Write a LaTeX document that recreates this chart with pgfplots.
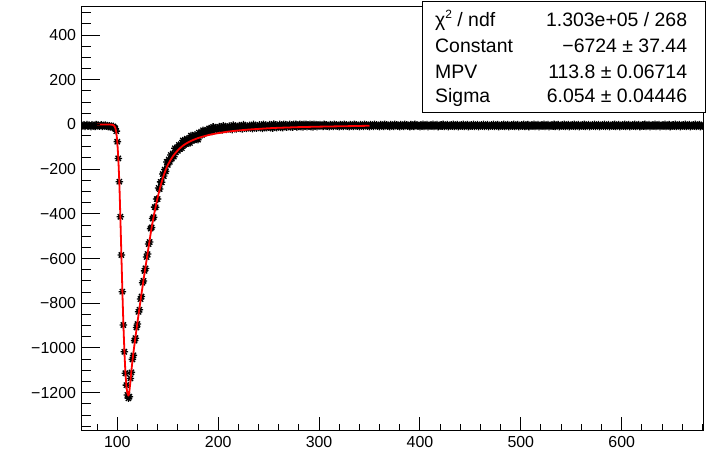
\documentclass[border=0pt]{standalone}
\usepackage{fontspec}
\setmainfont{Liberation Sans}
\usepackage{pgfplots}
\pgfplotsset{compat=1.18}

% ROOT marker 3: a + and an x on top of each other
\pgfdeclareplotmark{rstar}{%
  \pgfpathmoveto{\pgfqpoint{-\pgfplotmarksize}{0pt}}\pgfpathlineto{\pgfqpoint{\pgfplotmarksize}{0pt}}%
  \pgfpathmoveto{\pgfqpoint{0pt}{-\pgfplotmarksize}}\pgfpathlineto{\pgfqpoint{0pt}{\pgfplotmarksize}}%
  \pgfpathmoveto{\pgfqpoint{-0.707\pgfplotmarksize}{-0.707\pgfplotmarksize}}\pgfpathlineto{\pgfqpoint{0.707\pgfplotmarksize}{0.707\pgfplotmarksize}}%
  \pgfpathmoveto{\pgfqpoint{-0.707\pgfplotmarksize}{0.707\pgfplotmarksize}}\pgfpathlineto{\pgfqpoint{0.707\pgfplotmarksize}{-0.707\pgfplotmarksize}}%
  \pgfusepathqstroke}

\pgfplotsset{
  rootframe/.style={
    scale only axis, width=621.6bp, height=423.3bp,
    at={(81.7bp,21bp)}, anchor=south west,
    xmin=64.7, xmax=680.9, ymin=-1366.8, ymax=526.6,
    axis line style={line width=1bp, black},
    tick align=inside,
    tick style={line width=1bp, black},
    ticklabel style={font=\fontsize{16}{18}\selectfont},
  }
}

\begin{document}
\begin{tikzpicture}
% frame with the data, x ticks
\begin{axis}[rootframe,
  clip marker paths=true,
  xtick={100,200,300,400,500,600},
  xticklabels={100,200,300,400,500,600},
  minor xtick={80,100,...,680},
  xtick pos=bottom, ytick=\empty,
  major tick length=12.7bp, minor tick length=6.2bp,
  xticklabel style={anchor=base, inner sep=0pt, yshift=-17.5bp},
]
\addplot[only marks, mark=rstar, mark size=3.7bp, black, line width=1.3bp] coordinates {
(65,-4)(66,-7)(67,-2)(68,-9)(69,-5)(70,-1)(71,-8)(72,-3)(73,-6)(74,-10)
(75,-2)(76,-7)(77,-4)(78,-9)(79,-1)(80,-6)(81,-3)(82,-8)(83,-5)(84,-2)
(85,-9)(86,-4)(87,-7)(88,-3)(89,-8)(90,-5)(91,-10)(92,-6)(93,-11)(94,-7)
(95,-12)(96,-9)(97,-14)(98,-18)(99,-30)
(100,-77)(101,-152)(102,-256)(103,-413)(104,-584)(105,-748)(106,-897)(107,-1017)(108,-1113)(109,-1166)
(110,-1210)(111,-1225)(112,-1218)
(113,-1136)(114,-1109)(115,-1051)(116,-1033)(117,-967)(118,-956)(119,-908)(120,-893)(121,-838)(122,-829)
(123,-781)(124,-770)(125,-708)(126,-700)(127,-655)(128,-644)(129,-593)(130,-580)(131,-535)(132,-526)
(133,-466)(134,-461)(135,-421)(136,-415)(137,-370)(138,-371)(139,-334)(140,-334)(141,-284)(142,-289)
(143,-257)(144,-259)(145,-222)(146,-231)(147,-202)(148,-210)(149,-168)(150,-181)(151,-157)(152,-167)
(153,-137)(154,-153)(155,-130)(156,-144)(157,-107)(158,-125)(159,-105)(160,-118)(161,-92)(162,-110)
(163,-90)(164,-106)(165,-72)(166,-91)(167,-73)(168,-88)(169,-64)(170,-84)(171,-66)(172,-83)
(173,-50)(174,-71)(175,-54)(176,-70)(177,-46)(178,-67)(179,-50)(180,-68)
(181,-37)(182,-48)(183,-36)(184,-47)(185,-26)(186,-37)(187,-27)(188,-37)(189,-26)(190,-30)
(191,-18)(192,-30)(193,-19)(194,-31)(195,-11)(196,-23)(197,-14)(198,-26)(199,-16)(200,-21)
(201,-10)(202,-23)(203,-12)(204,-25)(205,-6)(206,-19)(207,-10)(208,-22)(209,-13)(210,-19)
(211,-7)(212,-20)(213,-10)(214,-23)(215,-3)(216,-16)(217,-8)(218,-20)(219,-10)(220,-16)
(221,-5)(222,-18)(223,-8)(224,-20)(225,-1)(226,-14)(227,-6)(228,-18)(229,-9)(230,-15)
(231,-4)(232,-16)(233,-6)(234,-19)(235,0)(236,-13)(237,-5)(238,-17)(239,-8)(240,-13)
(241,-2)(242,-15)(243,-5)(244,-18)(245,1)(246,-12)(247,-4)(248,-15)(249,-6)(250,-12)
(251,-1)(252,-14)(253,-4)(254,-17)(255,2)(256,-10)(257,-2)(258,-14)(259,-5)(260,-11)
(261,0)(262,-13)(263,-3)(264,-14)(265,1)(266,-9)(267,-1)(268,-12)(269,-4)(270,-10)
(271,0)(272,-11)(273,-2)(274,-12)(275,1)(276,-8)(277,0)(278,-11)(279,-3)(280,-9)
(281,0)(282,-10)(283,-1)(284,-11)(285,1)(286,-7)(287,0)(288,-10)(289,-2)(290,-8)
(291,0)(292,-10)(293,-1)(294,-11)(295,0)(296,-6)(297,-1)(298,-10)(299,-2)(300,-7)
(301,-1)(302,-7)(303,-3)(304,-9)(305,0)(306,-6)(307,-2)(308,-8)(309,-4)(310,-10)
(311,-1)(312,-7)(313,-3)(314,-9)(315,0)(316,-6)(317,-2)(318,-8)(319,-4)(320,-10)
(321,-1)(322,-7)(323,-3)(324,-9)(325,0)(326,-6)(327,-2)(328,-8)(329,-4)(330,-10)
(331,-1)(332,-7)(333,-3)(334,-9)(335,0)(336,-6)(337,-2)(338,-8)(339,-4)(340,-10)
(341,-1)(342,-7)(343,-3)(344,-9)(345,0)(346,-6)(347,-2)(348,-8)(349,-4)(350,-10)
(351,-1)(352,-7)(353,-3)(354,-9)(355,0)(356,-6)(357,-2)(358,-8)(359,-4)(360,-10)
(361,-1)(362,-7)(363,-3)(364,-9)(365,0)(366,-6)(367,-2)(368,-8)(369,-4)(370,-10)
(371,-1)(372,-7)(373,-3)(374,-9)(375,0)(376,-6)(377,-2)(378,-8)(379,-4)(380,-10)
(381,-1)(382,-7)(383,-3)(384,-9)(385,0)(386,-6)(387,-2)(388,-8)(389,-4)(390,-10)
(391,-1)(392,-7)(393,-3)(394,-9)(395,0)(396,-6)(397,-2)(398,-8)(399,-4)(400,-10)
(401,-2)(402,-8)(403,0)(404,-9)(405,-3)(406,-6)(407,-1)(408,-10)(409,-4)(410,-7)
(411,-2)(412,-8)(413,0)(414,-9)(415,-3)(416,-6)(417,-1)(418,-10)(419,-4)(420,-7)
(421,-2)(422,-8)(423,0)(424,-9)(425,-3)(426,-6)(427,-1)(428,-10)(429,-4)(430,-7)
(431,-2)(432,-8)(433,0)(434,-9)(435,-3)(436,-6)(437,-1)(438,-10)(439,-4)(440,-7)
(441,-2)(442,-8)(443,0)(444,-9)(445,-3)(446,-6)(447,-1)(448,-10)(449,-4)(450,-7)
(451,-2)(452,-8)(453,0)(454,-9)(455,-3)(456,-6)(457,-1)(458,-10)(459,-4)(460,-7)
(461,-2)(462,-8)(463,0)(464,-9)(465,-3)(466,-6)(467,-1)(468,-10)(469,-4)(470,-7)
(471,-2)(472,-8)(473,0)(474,-9)(475,-3)(476,-6)(477,-1)(478,-10)(479,-4)(480,-7)
(481,-2)(482,-8)(483,0)(484,-9)(485,-3)(486,-6)(487,-1)(488,-10)(489,-4)(490,-7)
(491,-2)(492,-8)(493,0)(494,-9)(495,-3)(496,-6)(497,-1)(498,-10)(499,-4)(500,-7)
(501,-2)(502,-8)(503,0)(504,-9)(505,-3)(506,-6)(507,-1)(508,-10)(509,-4)(510,-7)
(511,-2)(512,-8)(513,0)(514,-9)(515,-3)(516,-6)(517,-1)(518,-10)(519,-4)(520,-7)
(521,-2)(522,-8)(523,0)(524,-9)(525,-3)(526,-6)(527,-1)(528,-10)(529,-4)(530,-7)
(531,-2)(532,-8)(533,0)(534,-9)(535,-3)(536,-6)(537,-1)(538,-10)(539,-4)(540,-7)
(541,-2)(542,-8)(543,0)(544,-9)(545,-3)(546,-6)(547,-1)(548,-10)(549,-4)(550,-7)
(551,-2)(552,-8)(553,0)(554,-9)(555,-3)(556,-6)(557,-1)(558,-10)(559,-4)(560,-7)
(561,-2)(562,-8)(563,0)(564,-9)(565,-3)(566,-6)(567,-1)(568,-10)(569,-4)(570,-7)
(571,-2)(572,-8)(573,0)(574,-9)(575,-3)(576,-6)(577,-1)(578,-10)(579,-4)(580,-7)
(581,-2)(582,-8)(583,0)(584,-9)(585,-3)(586,-6)(587,-1)(588,-10)(589,-4)(590,-7)
(591,-2)(592,-8)(593,0)(594,-9)(595,-3)(596,-6)(597,-1)(598,-10)(599,-4)(600,-7)
(601,-2)(602,-8)(603,0)(604,-9)(605,-3)(606,-6)(607,-1)(608,-10)(609,-4)(610,-7)
(611,-2)(612,-8)(613,0)(614,-9)(615,-3)(616,-6)(617,-1)(618,-10)(619,-4)(620,-7)
(621,-2)(622,-8)(623,0)(624,-9)(625,-3)(626,-6)(627,-1)(628,-10)(629,-4)(630,-7)
(631,-2)(632,-8)(633,0)(634,-9)(635,-3)(636,-6)(637,-1)(638,-10)(639,-4)(640,-7)
(641,-2)(642,-8)(643,0)(644,-9)(645,-3)(646,-6)(647,-1)(648,-10)(649,-4)(650,-7)
(651,-2)(652,-8)(653,0)(654,-9)(655,-3)(656,-6)(657,-1)(658,-10)(659,-4)(660,-7)
(661,-2)(662,-8)(663,0)(664,-9)(665,-3)(666,-6)(667,-1)(668,-10)(669,-4)(670,-7)
(671,-2)(672,-8)(673,0)(674,-9)(675,-3)(676,-6)(677,-1)(678,-10)(679,-4)(680,-7)
(681,-2)
};
% Landau fit
\addplot[red, line width=1.8bp, no marks, line join=round] coordinates {
(80,0)(85,0)(90,0)(93,-0.5)(95,-1.5)(96,-3)(97,-7)(98,-15)(99,-35)(100,-78)
(101,-152)(102,-258)(103,-410)(104,-578)(105,-742)(106,-890)(107,-1012)(108,-1108)(109,-1170)(110,-1203)
(111,-1213)(111.5,-1208)(112,-1192)(113,-1150)(114,-1100)(115,-1058)(116,-1020)(117,-985)(118,-951)(119,-918)
(120,-885)(121,-852)(122,-820)(123,-788)(124,-757)(125,-726)(126,-695)(127,-665)(128,-636)(129,-607)
(130,-577)(131,-548)(132,-519)(133,-490)(134,-462)(135,-437)(136,-413)(137,-390)(138,-368)(139,-347)
(140,-327)(141,-308)(142,-290)(143,-273)(144,-257)(145,-242)(146,-228)(147,-215)(148,-203)(149,-192)
(150,-182)(152,-165)(154,-150)(156,-137)(158,-126)(160,-116)(162,-107)(164,-99)(166,-92)(168,-86)
(170,-81)(172,-76)(175,-70)(180,-61)(185,-54)(190,-48)(195,-43)(200,-39)(210,-32)(220,-27)
(230,-23)(240,-20)(250,-17)(260,-15)(280,-12)(300,-10)(325,-8)(350,-6)
};
\end{axis}
% same frame again, y ticks (longer, as ROOT scales them with the axis width)
\begin{axis}[rootframe,
  ytick={-1200,-1000,-800,-600,-400,-200,0,200,400},
  yticklabels={−1200,−1000,−800,−600,−400,−200,0,200,400},
  minor ytick={-1350,-1300,...,500},
  ytick pos=left, xtick=\empty,
  major tick length=18.3bp, minor tick length=9bp,
  yticklabel style={anchor=east, inner sep=0pt, xshift=-5.5bp},
]
\addplot[draw=none] coordinates {(300,0)};
\end{axis}
% statistics box
\draw[line width=1bp, fill=white] (422bp,338.7bp) rectangle (705.5bp,449.3bp);
\begin{scope}[every node/.style={inner sep=0pt}, font=\fontsize{19.5}{22}\selectfont]
\node[anchor=base west] at (435bp,424bp) {χ\raisebox{0.45em}{\fontsize{12}{12}\selectfont 2} / ndf};
\node[anchor=base east] at (687.3bp,424bp) {1.303e+05 / 268};
\node[anchor=base west] at (435bp,398bp) {Constant};
\node[anchor=base east] at (687.3bp,398bp) {−6724 ± 37.44};
\node[anchor=base west] at (435bp,372bp) {MPV};
\node[anchor=base east] at (687.3bp,372bp) {113.8 ± 0.06714};
\node[anchor=base west] at (435bp,348bp) {Sigma};
\node[anchor=base east] at (687.3bp,348bp) {6.054 ± 0.04446};
\end{scope}
\pgfresetboundingbox
\useasboundingbox (0,0) rectangle (706bp,451bp);
\end{tikzpicture}
\end{document}
